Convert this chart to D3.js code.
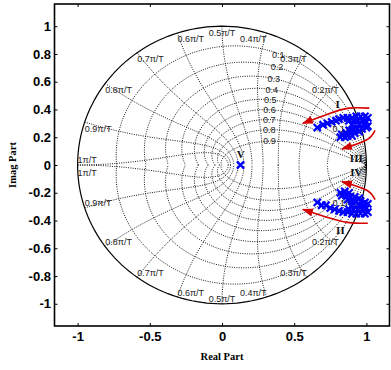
<!DOCTYPE html>
<html>
<head>
<meta charset="utf-8">
<script src="https://cdn.jsdelivr.net/npm/d3@7"></script>
<style>
  body { margin: 0; background: #fff; }
  svg { display: block; }
</style>
</head>
<body>
<svg id="chart" width="391" height="370"></svg>
<script>
// axis ticks
const xTicks = [-1, -0.5, 0, 0.5, 1];
const yTicks = [-1, -0.8, -0.6, -0.4, -0.2, 0, 0.2, 0.4, 0.6, 0.8, 1];

// zgrid: damping ratios and natural frequencies (multiples of pi/T)
const zetaValues = [0.1, 0.2, 0.3, 0.4, 0.5, 0.6, 0.7, 0.8, 0.9];
const wnValues = [0.1, 0.2, 0.3, 0.4, 0.5, 0.6, 0.7, 0.8, 0.9, 1];
const wnLabels = ['0.1π/T', '0.2π/T', '0.3π/T', '0.4π/T', '0.5π/T',
                  '0.6π/T', '0.7π/T', '0.8π/T', '0.9π/T', '1π/T'];

// pole locations (real, imag)
const polesUpper = [
  [0.66, 0.27], [0.70, 0.29], [0.73, 0.30], [0.76, 0.31], [0.79, 0.32],
  [0.81, 0.33], [0.84, 0.34], [0.87, 0.34], [0.90, 0.34], [0.93, 0.35], [0.96, 0.35], [0.99, 0.35], [1.01, 0.34],
  [0.88, 0.32], [0.91, 0.32], [0.94, 0.32], [0.97, 0.32], [1.00, 0.31],
  [0.90, 0.29], [0.95, 0.29], [0.98, 0.29], [1.01, 0.28],
  [0.88, 0.25], [0.91, 0.26], [0.94, 0.26], [0.97, 0.26], [1.00, 0.27],
  [0.83, 0.22], [0.86, 0.23], [0.89, 0.23], [0.92, 0.23], [0.95, 0.24],
  [0.82, 0.20], [0.85, 0.20], [0.87, 0.21], [0.90, 0.21]
];
const polesLower = [
  [0.66, -0.27], [0.69, -0.29], [0.72, -0.29], [0.75, -0.31], [0.78, -0.32],
  [0.81, -0.33], [0.84, -0.34], [0.87, -0.34], [0.90, -0.35], [0.93, -0.35], [0.96, -0.35], [0.99, -0.35], [1.01, -0.34],
  [0.88, -0.32], [0.91, -0.32], [0.94, -0.32], [0.97, -0.32], [1.00, -0.31],
  [0.90, -0.29], [0.95, -0.29], [0.98, -0.29], [1.01, -0.28],
  [0.87, -0.25], [0.90, -0.26], [0.93, -0.26], [0.96, -0.26], [0.99, -0.27],
  [0.83, -0.22], [0.86, -0.22], [0.89, -0.23], [0.92, -0.23], [0.95, -0.24],
  [0.82, -0.20], [0.85, -0.19], [0.88, -0.20]
];
const poleV = [[0.128, 0]];

// annotations
const arrowPaths = [
  [[1.02, 0.41], [0.88, 0.41], [0.74, 0.37], [0.56, 0.30]],
  [[1.06, 0.25], [1.00, 0.18], [0.83, 0.115]],
  [[1.06, -0.25], [1.00, -0.18], [0.83, -0.12]],
  [[1.01, -0.42], [0.88, -0.415], [0.74, -0.38], [0.56, -0.32]]
];
const romanLabels = ['I', 'II', 'III', 'IV', 'V'];
const romanPos = [[0.80, 0.44], [0.82, -0.47], [0.93, 0.05], [0.93, -0.05], [0.13, 0.08]];

const svg = d3.select('#chart');
const x = d3.scaleLinear().domain([-1.16, 1.16]).range([54.5, 389.5]);
const y = d3.scaleLinear().domain([-1.16, 1.16]).range([326, 4]);

const gridG = svg.append('g').attr('fill', 'none').attr('stroke', '#000')
  .attr('stroke-width', 0.9).attr('stroke-dasharray', '1,1.3');
const line = d3.line().x(d => x(d[0])).y(d => y(d[1]));

// damping ratio curves: z = exp(t(-m + j)), t in [0, pi]
zetaValues.forEach(zeta => {
  const m = Math.tan(Math.asin(zeta));
  const pts = d3.range(0, 81).map(i => {
    const t = Math.PI * i / 80;
    const r = Math.exp(-m * t);
    return [r * Math.cos(t), r * Math.sin(t)];
  });
  gridG.append('path').attr('d', line(pts));
  gridG.append('path').attr('d', line(pts.map(p => [p[0], -p[1]])));
});

// natural frequency curves: z = exp(wn e^{j theta}), theta in [pi/2, pi]
wnValues.forEach(w => {
  const wn = w * Math.PI;
  const pts = d3.range(0, 61).map(i => {
    const th = Math.PI / 2 + Math.PI / 2 * i / 60;
    const r = Math.exp(wn * Math.cos(th));
    const a = wn * Math.sin(th);
    return [r * Math.cos(a), r * Math.sin(a)];
  });
  gridG.append('path').attr('d', line(pts));
  gridG.append('path').attr('d', line(pts.map(p => [p[0], -p[1]])));
});

// unit circle
svg.append('path')
  .attr('d', line(d3.range(0, 181).map(i => [Math.cos(i * Math.PI / 90), Math.sin(i * Math.PI / 90)])))
  .attr('fill', 'none').attr('stroke', '#000').attr('stroke-width', 1.2);

// grid labels
const labG = svg.append('g').attr('font-family', 'Liberation Sans, Arial, sans-serif')
  .attr('font-size', 9).attr('fill', '#222');
wnValues.forEach((w, i) => {
  const a = w * Math.PI;
  const cx = Math.cos(a), cy = Math.sin(a);
  const anchor = Math.abs(cx) < 0.01 ? 'middle' : (cx > 0 ? 'end' : 'start');
  const last = i === wnValues.length - 1;
  labG.append('text').attr('x', x(cx)).attr('y', y(cy) + (last ? -2.4 : 9.5))
    .attr('text-anchor', anchor).text(wnLabels[i]);
  labG.append('text').attr('x', x(cx)).attr('y', y(-cy) + (last ? 10.5 : -1.4))
    .attr('text-anchor', anchor).text(wnLabels[i]);
});
zetaValues.forEach(zeta => {
  const wn = 0.35 * Math.PI;
  const r = Math.exp(-zeta * wn);
  const a = wn * Math.sqrt(1 - zeta * zeta);
  labG.append('text').attr('x', x(r * Math.cos(a)) - (zeta === 0.1 ? 3 : 0)).attr('y', y(r * Math.sin(a)))
    .attr('dy', '0.35em').attr('text-anchor', 'middle').text(zeta);
});

// poles
const cross = d => {
  const px = x(d[0]), py = y(d[1]), s = 3.6;
  return `M${px - s},${py - s}L${px + s},${py + s}M${px - s},${py + s}L${px + s},${py - s}`;
};
svg.append('g').selectAll('path').data(polesUpper.concat(polesLower, poleV)).join('path')
  .attr('d', cross).attr('stroke', '#0000ff').attr('stroke-width', 2.2).attr('fill', 'none');

// arrows
svg.append('defs').append('marker').attr('id', 'head')
  .attr('markerUnits', 'userSpaceOnUse').attr('markerWidth', 12).attr('markerHeight', 10)
  .attr('refX', 10).attr('refY', 4).attr('orient', 'auto')
  .append('path').attr('d', 'M0,0L11,4L0,8Z').attr('fill', '#d40000');
const curve = d3.line().x(d => x(d[0])).y(d => y(d[1])).curve(d3.curveNatural);
svg.append('g').selectAll('path').data(arrowPaths).join('path')
  .attr('d', curve).attr('fill', 'none').attr('stroke', '#d40000').attr('stroke-width', 1.6)
  .attr('marker-end', 'url(#head)');

svg.append('g').selectAll('text').data(romanLabels).join('text')
  .attr('x', (d, i) => x(romanPos[i][0])).attr('y', (d, i) => y(romanPos[i][1]))
  .attr('dy', '0.35em').attr('text-anchor', 'middle')
  .attr('font-family', 'Liberation Serif, Times New Roman, serif').attr('font-weight', 'bold')
  .attr('font-size', 11).attr('fill', '#111').text(d => d);

// axes
const fmt = d => d3.format('')(+d.toFixed(2)).replace('−', '-');
const styleAxis = g => {
  g.select('.domain').remove();
  g.selectAll('line').attr('stroke', '#000').attr('stroke-width', 1);
  g.selectAll('text').attr('font-family', 'Liberation Sans, Arial, sans-serif')
    .attr('font-weight', 'bold').attr('font-size', 13).attr('fill', '#000');
};
svg.append('g').attr('transform', 'translate(0,326)')
  .call(d3.axisBottom(x).tickValues(xTicks).tickSize(-3).tickPadding(6).tickFormat(fmt)).call(styleAxis);
svg.append('g').attr('transform', 'translate(0,4)')
  .call(d3.axisTop(x).tickValues(xTicks).tickSize(-3).tickFormat('')).call(styleAxis);
svg.append('g').attr('transform', 'translate(54.5,0)')
  .call(d3.axisLeft(y).tickValues(yTicks).tickSize(-3).tickPadding(3.5).tickFormat(fmt)).call(styleAxis);
svg.append('g').attr('transform', 'translate(389.5,0)')
  .call(d3.axisRight(y).tickValues(yTicks).tickSize(-3).tickFormat('')).call(styleAxis);

// box
svg.append('rect').attr('x', 54.5).attr('y', 4).attr('width', 335).attr('height', 322)
  .attr('fill', 'none').attr('stroke', '#000').attr('stroke-width', 1.6);

// axis titles
svg.append('text').attr('x', 222).attr('y', 360).attr('text-anchor', 'middle')
  .attr('font-family', 'Liberation Serif, Times New Roman, serif').attr('font-weight', 'bold')
  .attr('font-size', 10.5).text('Real Part');
svg.append('text').attr('transform', 'translate(16,165) rotate(-90)').attr('text-anchor', 'middle')
  .attr('font-family', 'Liberation Serif, Times New Roman, serif').attr('font-weight', 'bold')
  .attr('font-size', 10.5).text('Imag Part');
</script>
</body>
</html>
